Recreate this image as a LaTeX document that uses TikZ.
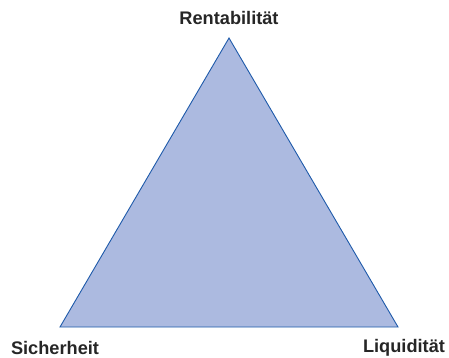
\documentclass[tikz,border=0pt]{standalone}
\usepackage{fontspec}
\setmainfont{Liberation Sans}
\definecolor{triFill}{RGB}{172,186,224}
\definecolor{triLine}{RGB}{30,90,170}
\tikzset{
  ecke/.style={font=\bfseries\fontsize{18.2}{21}\selectfont, text=black!85, inner sep=0pt},
  dreieck/.style={fill=triFill, draw=triLine, line width=0.9pt, line join=miter}
}
\begin{document}
\begin{tikzpicture}[x=1pt,y=-1pt]
      \useasboundingbox (0,0) rectangle (449,358);
      \coordinate (oben) at (229,38);
      \coordinate (links) at (60,327);
      \coordinate (rechts) at (398,327);
      \filldraw[dreieck] (oben) -- (links) -- (rechts) -- cycle;
      \node[ecke] (rent) at (229,18) {Rentabilität};
      \node[ecke] (sich) at (55,348) {Sicherheit};
      \node[ecke] (liqu) at (404,348) {Liquidität};
  \end{tikzpicture}
\end{document}
